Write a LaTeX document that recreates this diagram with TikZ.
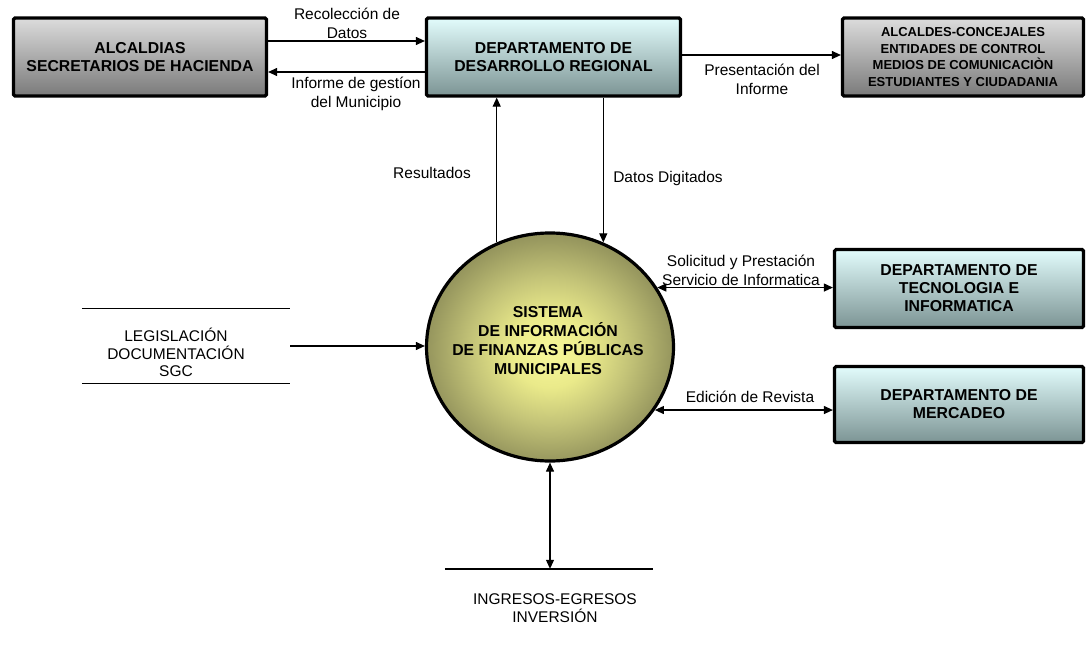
\documentclass[tikz,border=0pt]{standalone}
\usepackage{fontspec}
\setmainfont{Liberation Sans}
\usetikzlibrary{arrows.meta,shapes.geometric}
\definecolor{grayTop}{HTML}{DCDCDC}
\definecolor{grayBot}{HTML}{7A7A7A}
\definecolor{tealTop}{HTML}{E2FCFC}
\definecolor{tealBot}{HTML}{7C9494}
\definecolor{sunIn}{HTML}{F8F89A}
\definecolor{sunMid}{HTML}{EAEA8A}
\definecolor{sunLow}{HTML}{C4C478}
\definecolor{sunDeep}{HTML}{9A9A60}
\definecolor{sunOut}{HTML}{76764A}
% radial fill of the central process bubble
\pgfdeclareradialshading{sun}{\pgfpoint{0bp}{-1bp}}{color(0bp)=(sunIn); color(8bp)=(sunMid); color(16bp)=(sunLow); color(24bp)=(sunDeep); color(32bp)=(sunOut); color(50bp)=(sunOut)}
\begin{document}
\begin{tikzpicture}[x=1pt,y=-1pt,
  box/.style={draw=black, line width=3.2pt, rounded corners=1.5pt, inner sep=0pt, align=center,
    font=\bfseries\fontsize{15.8}{18}\selectfont},
  graybox/.style={box, top color=grayTop, bottom color=grayBot},
  tealbox/.style={box, top color=tealTop, bottom color=tealBot},
  lbl/.style={align=center, inner sep=0pt, font=\fontsize{15.5}{19}\selectfont},
  tip/.tip={Triangle[length=9pt,width=8pt]},
  flow/.style={line width=1.1pt, -tip},
  dflow/.style={line width=1.1pt, tip-tip},
  storeline/.style={line width=1.1pt}]
\useasboundingbox (0,0) rectangle (1087,645);

% external entities
\node[graybox, minimum width=253pt, minimum height=78pt] (alc) at (140,57)
  {ALCALDIAS\\SECRETARIOS DE HACIENDA};
\node[tealbox, minimum width=254pt, minimum height=78pt] (ddr) at (553.5,57)
  {DEPARTAMENTO DE\\DESARROLLO REGIONAL};
\node[graybox, minimum width=241pt, minimum height=78pt, font=\bfseries\fontsize{13}{16.5}\selectfont] (pub) at (963,57)
  {ALCALDES-CONCEJALES\\ENTIDADES DE CONTROL\\MEDIOS DE COMUNICACIÒN\\ESTUDIANTES Y CIUDADANIA};
\node[tealbox, minimum width=249pt, minimum height=78pt] (tec) at (959,288.5)
  {DEPARTAMENTO DE\\TECNOLOGIA E\\INFORMATICA};
\node[tealbox, minimum width=249pt, minimum height=76pt] (merc) at (959,404.5)
  {DEPARTAMENTO DE\\MERCADEO};

% central process
\node[ellipse, draw=black, line width=3.2pt, shading=sun, minimum width=247pt, minimum height=228pt, inner sep=0pt] (circ) at (550,347) {};
\node[align=center, inner sep=0pt, font=\bfseries\fontsize{15.8}{19}\selectfont] (circtxt) at (548,341)
  {SISTEMA\\DE INFORMACIÓN\\DE FINANZAS PÚBLICAS\\MUNICIPALES};

% data stores
\node[minimum width=208pt, minimum height=74pt, inner sep=0pt] (leg) at (186,346) {};
\draw[storeline] (leg.north west) -- (leg.north east);
\draw[storeline] (leg.south west) -- (leg.south east);
\node[align=center, inner sep=0pt, font=\fontsize{15.5}{17.5}\selectfont] (legtxt) at (176,352.5)
  {LEGISLACIÓN\\DOCUMENTACIÓN\\SGC};

\node[minimum width=208pt, minimum height=0pt, inner sep=0pt] (ing) at (549,569) {};
\draw[storeline] (ing.west) -- (ing.east);
\node[lbl, font=\fontsize{15.5}{18}\selectfont] (ingtxt) at (555,608) {INGRESOS-EGRESOS\\INVERSIÓN};

% flows
\draw[flow] ([yshift=16pt]alc.east) -- ([yshift=16pt]ddr.west);
\draw[flow] ([yshift=-15pt]ddr.west) -- ([yshift=-15pt]alc.east);
\draw[flow] ([yshift=2pt]ddr.east) -- ([yshift=2pt]pub.west);
\draw[flow] (circ.117) -- (circ.117 |- ddr.south);
\draw[flow] (circ.63 |- ddr.south) -- (circ.63);
\draw[dflow] (circ.29) -- (circ.29 -| tec.west);
\draw[dflow] (circ.-31) -- (circ.-31 -| merc.west);
\draw[flow] (leg.east) -- (leg.east -| circ.west);
\draw[dflow] (circ.south) -- (circ.south |- ing.north);

% flow labels
\node[lbl] (l1) at (347,23) {Recolección de\\Datos};
\node[lbl] (l2) at (356,94) {Informe de gestíon\\del Municipio};
\node[lbl] (l3) at (762,79) {Presentación del\\Informe};
\node[lbl] (l4) at (432,173) {Resultados};
\node[lbl] (l5) at (668,178) {Datos Digitados};
\node[lbl] (l6) at (741,270) {Solicitud y Prestación\\Servicio de Informatica};
\node[lbl] (l7) at (750,397) {Edición de Revista};
\end{tikzpicture}
\end{document}
